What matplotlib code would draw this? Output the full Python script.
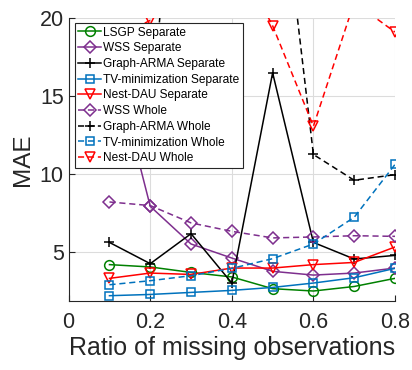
import numpy as np
import matplotlib
matplotlib.use('Agg')
import matplotlib.pyplot as plt

plt.rcParams['font.family'] = ['Liberation Sans', 'DejaVu Sans']

ratio = [0.1, 0.2, 0.3, 0.4, 0.5, 0.6, 0.7, 0.8]

# separate models
lsgp_sep = [4.21, 4.06, 3.71, 3.42, 2.67, 2.52, 2.81, 3.33]
wss_sep = [18.2, 7.94, 5.53, 4.63, 3.78, 3.54, 3.67, 3.99]
arma_sep = [5.63, 4.27, 6.19, 3.03, 16.49, 5.63, 4.57, 4.80]
tv_sep = [2.22, 2.30, 2.43, 2.56, 2.75, 3.03, 3.37, 3.97]
dau_sep = [3.33, 3.67, 3.58, 3.99, 3.99, 4.21, 4.35, 5.34]

# whole-graph models
wss_whole = [8.22, 7.99, 6.88, 6.34, 5.92, 5.98, 6.06, 6.02]
arma_whole = [12.0, 13.0, 43.0, 38.0, 33.5, 11.26, 9.61, 9.97]
tv_whole = [2.92, 3.18, 3.50, 3.97, 4.59, 5.53, 7.24, 10.62]
dau_whole = [18.5, 19.85, 23.0, 24.5, 19.5, 13.07, 21.0, 19.1]

green = '#008000'
purple = '#7E2F8E'
blue = '#0072BD'
red = '#FF0000'
dash = (0, (4, 2.5))

series = [
  (lsgp_sep, 'LSGP Separate', green, 'o', '-'),
  (wss_sep, 'WSS Separate', purple, 'D', '-'),
  (arma_sep, 'Graph-ARMA Separate', 'k', '+', '-'),
  (tv_sep, 'TV-minimization Separate', blue, 's', '-'),
  (dau_sep, 'Nest-DAU Separate', red, 'v', '-'),
  (wss_whole, 'WSS Whole', purple, 'D', dash),
  (arma_whole, 'Graph-ARMA Whole', 'k', '+', dash),
  (tv_whole, 'TV-minimization Whole', blue, 's', dash),
  (dau_whole, 'Nest-DAU Whole', red, 'v', dash),
]
sizes = {'o': 7, 'D': 6, '+': 7.5, 's': 6, 'v': 7}

fig = plt.figure(figsize=(4.12, 3.7), dpi=100)
ax = fig.add_axes([0.1667, 0.1873, 0.792, 0.7641])

for vals, name, col, mk, ls in series:
  ax.plot(ratio, vals, color=col, marker=mk, linestyle=ls, lw=1.1,
          markersize=sizes[mk], markerfacecolor='none', markeredgewidth=1.1, label=name)

ax.set_xlim(0, 0.8)
ax.set_ylim(1.9, 20)
ax.set_xticks([0, 0.2, 0.4, 0.6, 0.8])
ax.set_xticklabels(['0', '0.2', '0.4', '0.6', '0.8'])
ax.set_yticks([5, 10, 15, 20])
ax.grid(True, color='#dcdcdc', lw=0.8)
ax.set_axisbelow(True)
for s in ['top', 'right']:
  ax.spines[s].set_visible(False)
for s in ['left', 'bottom']:
  ax.spines[s].set_color('#262626')
  ax.spines[s].set_linewidth(0.8)
ax.tick_params(direction='in', length=4, colors='#262626', labelsize=15.5, width=0.8)
ax.tick_params(axis='x', pad=8)
ax.set_xlabel('Ratio of missing observations', fontsize=18, color='#262626', labelpad=2)
ax.set_ylabel('MAE', fontsize=17.5, color='#262626', labelpad=4)

leg = ax.legend(loc='upper left', bbox_to_anchor=(0.018, 0.982), fontsize=8.6,
                handlelength=1.95, handletextpad=0.15, labelspacing=0.31,
                borderpad=0.3, borderaxespad=0, fancybox=False, framealpha=1)
leg.get_frame().set_edgecolor('#262626')
leg.get_frame().set_linewidth(0.8)

fig.savefig('out.png', dpi=100)
